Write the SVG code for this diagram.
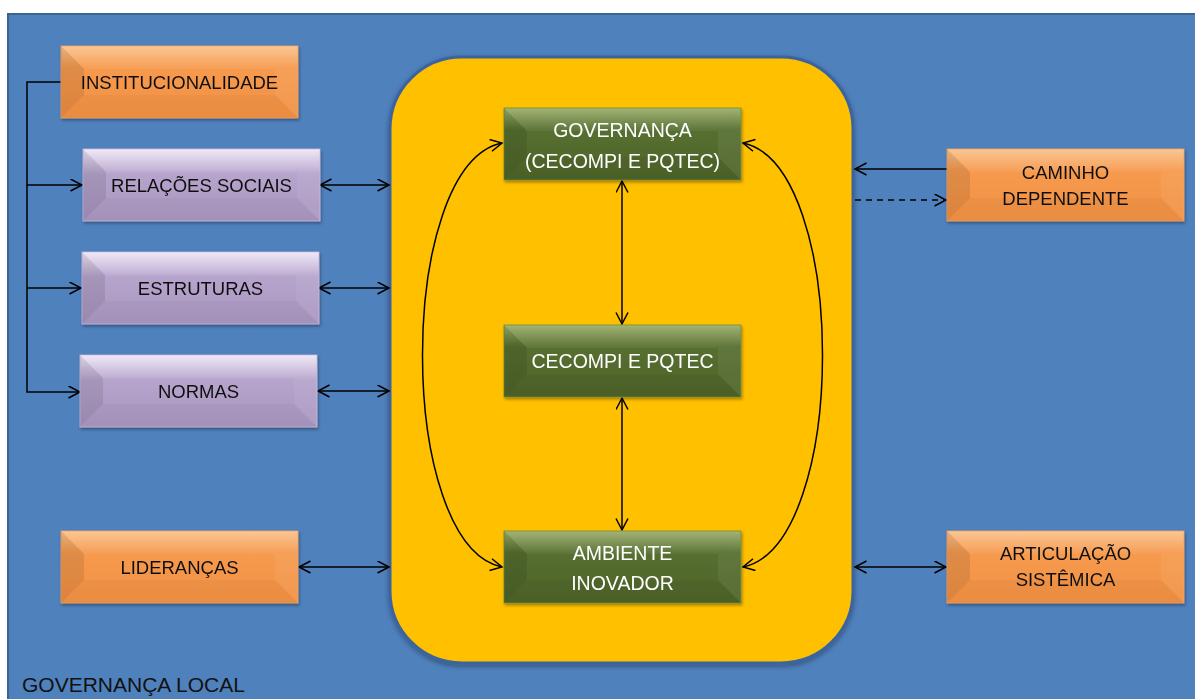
<svg xmlns="http://www.w3.org/2000/svg" xmlns:xlink="http://www.w3.org/1999/xlink" width="1195" height="699" viewBox="0 0 1195 699">
<style>
.lbl{font-family:"Liberation Sans",Arial,sans-serif;font-size:18.5px;fill:#111;text-anchor:middle}
.wlbl{font-family:"Liberation Sans",Arial,sans-serif;font-size:19.5px;fill:#fff;text-anchor:middle}
.ln{fill:none;stroke:#000;stroke-width:1.5}
.dbl{marker-start:url(#ah);marker-end:url(#ah)}
.one{marker-end:url(#ah)}
</style>
<defs>
<marker id="ah" markerUnits="userSpaceOnUse" markerWidth="16" markerHeight="16" refX="12" refY="6.5" orient="auto-start-reverse">
<path d="M0.5,0.5 L12,6.5 L0.5,12.5" fill="none" stroke="#000" stroke-width="1.5"/>
</marker>
<linearGradient id="gOr" x1="0" y1="0" x2="0" y2="1">
<stop offset="0" stop-color="#fbc48e"/><stop offset="0.3" stop-color="#f69a4e"/><stop offset="1" stop-color="#f29144"/>
</linearGradient>
<linearGradient id="gPu" x1="0" y1="0" x2="0" y2="1">
<stop offset="0" stop-color="#f0e8f8"/><stop offset="0.35" stop-color="#b6a4cc"/><stop offset="1" stop-color="#a996c0"/>
</linearGradient>
<linearGradient id="gGr" x1="0" y1="0" x2="0" y2="1">
<stop offset="0" stop-color="#9db06c"/><stop offset="0.3" stop-color="#566f30"/><stop offset="1" stop-color="#4e6429"/>
</linearGradient>
<filter id="sh" x="-10%" y="-10%" width="125%" height="135%">
<feDropShadow dx="1" dy="2" stdDeviation="1.5" flood-color="#000" flood-opacity="0.35"/>
</filter>
<filter id="sh2" x="-5%" y="-5%" width="110%" height="110%">
<feDropShadow dx="0" dy="2" stdDeviation="2.5" flood-color="#000" flood-opacity="0.35"/>
</filter>
<g id="bev">
<polygon points="0,0 23,23 23,49 0,72" fill="#000" fill-opacity="0.09"/>
<polygon points="237,0 214,23 214,49 237,72" fill="#fff" fill-opacity="0.06"/>
<polygon points="0,72 23,49 214,49 237,72" fill="#000" fill-opacity="0.03"/>
<polygon points="0,0 237,0 214,23 23,23" fill="#fff" fill-opacity="0.06"/>
</g>
</defs>
<rect x="0" y="0" width="1195" height="699" fill="#fff"/>
<rect id="bg" x="8" y="14" width="1200" height="700" fill="#4f81bd" stroke="#3a6593" stroke-width="2"/>
<text x="22" y="692" font-family="'Liberation Sans',Arial,sans-serif" font-size="21" fill="#111">GOVERNANÇA LOCAL</text>

<g id="core">
<rect x="390" y="57" width="463" height="606" rx="72" ry="72" fill="#ffc000" stroke="#3a64a0" stroke-width="3" filter="url(#sh2)"/>
</g>

<g id="connectors">
<path class="ln" d="M61,82 H27 V392 H80" marker-end="url(#ah)"/>
<path class="ln one" d="M27,185 H82"/>
<path class="ln one" d="M27,288 H81"/>
<path class="ln dbl" d="M320,185 H389"/>
<path class="ln dbl" d="M319,288 H389"/>
<path class="ln dbl" d="M318,391 H389"/>
<path class="ln dbl" d="M299,567 H389"/>
<path class="ln one" d="M947,169 H855"/>
<path class="ln one" d="M855,200 H946" stroke-dasharray="6,5"/>
<path class="ln dbl" d="M855,567 H946"/>
<path class="ln dbl" d="M622,181 V324"/>
<path class="ln dbl" d="M622,398 V530"/>
<path class="ln dbl" d="M502,143 C396,165 396,545 502,567"/>
<path class="ln dbl" d="M743,143 C849,165 849,545 743,567"/>
</g>

<g id="n-inst" filter="url(#sh)"><rect x="61" y="46" width="237" height="72" fill="url(#gOr)" stroke="#f0a060" stroke-width="0.8"/><use href="#bev" x="61" y="46"/><text class="lbl" x="179.5" y="89">INSTITUCIONALIDADE</text></g>
<g id="n-rel" filter="url(#sh)"><rect x="83" y="149" width="237" height="72" fill="url(#gPu)" stroke="#c8b8dc" stroke-width="0.8"/><use href="#bev" x="83" y="149"/><text class="lbl" x="201.5" y="192">RELAÇÕES SOCIAIS</text></g>
<g id="n-est" filter="url(#sh)"><rect x="82" y="252" width="237" height="72" fill="url(#gPu)" stroke="#c8b8dc" stroke-width="0.8"/><use href="#bev" x="82" y="252"/><text class="lbl" x="200.5" y="295">ESTRUTURAS</text></g>
<g id="n-norm" filter="url(#sh)"><rect x="80" y="355" width="237" height="72" fill="url(#gPu)" stroke="#c8b8dc" stroke-width="0.8"/><use href="#bev" x="80" y="355"/><text class="lbl" x="198.5" y="398">NORMAS</text></g>
<g id="n-lid" filter="url(#sh)"><rect x="61" y="531" width="237" height="72" fill="url(#gOr)" stroke="#f0a060" stroke-width="0.8"/><use href="#bev" x="61" y="531"/><text class="lbl" x="179.5" y="574">LIDERANÇAS</text></g>
<g id="n-gov" filter="url(#sh)"><rect x="504" y="108" width="237" height="72" fill="url(#gGr)" stroke="#6e8a3a" stroke-width="0.8"/><use href="#bev" x="504" y="108"/><text class="wlbl" x="622.5" y="137">GOVERNANÇA</text><text class="wlbl" x="622.5" y="168">(CECOMPI E PQTEC)</text></g>
<g id="n-cec" filter="url(#sh)"><rect x="504" y="325" width="237" height="72" fill="url(#gGr)" stroke="#6e8a3a" stroke-width="0.8"/><use href="#bev" x="504" y="325"/><text class="wlbl" x="622.5" y="368">CECOMPI E PQTEC</text></g>
<g id="n-amb" filter="url(#sh)"><rect x="504" y="531" width="237" height="72" fill="url(#gGr)" stroke="#6e8a3a" stroke-width="0.8"/><use href="#bev" x="504" y="531"/><text class="wlbl" x="622.5" y="560">AMBIENTE</text><text class="wlbl" x="622.5" y="590">INOVADOR</text></g>
<g id="n-cam" filter="url(#sh)"><rect x="947" y="149" width="237" height="72" fill="url(#gOr)" stroke="#f0a060" stroke-width="0.8"/><use href="#bev" x="947" y="149"/><text class="lbl" x="1065.5" y="179">CAMINHO</text><text class="lbl" x="1065.5" y="205">DEPENDENTE</text></g>
<g id="n-art" filter="url(#sh)"><rect x="947" y="531" width="237" height="72" fill="url(#gOr)" stroke="#f0a060" stroke-width="0.8"/><use href="#bev" x="947" y="531"/><text class="lbl" x="1065.5" y="560">ARTICULAÇÃO</text><text class="lbl" x="1065.5" y="586">SISTÊMICA</text></g>
</svg>
